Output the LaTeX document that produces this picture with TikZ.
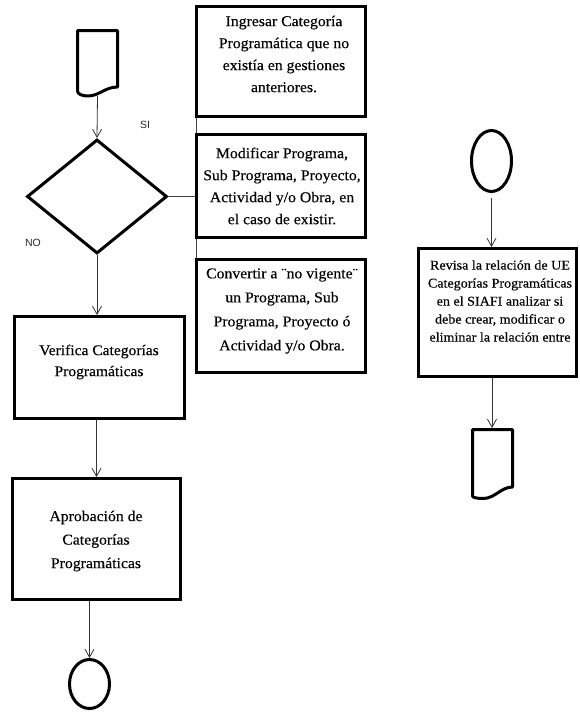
\documentclass[tikz,border=0pt]{standalone}
\usepackage{fontspec}
\setmainfont{Liberation Serif}[FakeStretch=1.05,FakeBold=0.3]
\newfontfamily\labelfont{Liberation Sans}
\usetikzlibrary{shapes.geometric,arrows.meta}

\begin{document}
\begin{tikzpicture}[x=1pt,y=-1pt,
  box/.style={draw, line width=3pt, rectangle, inner sep=0pt},
  terminal/.style={draw, line width=3pt, ellipse, inner sep=0pt},
  decision/.style={draw, line width=3pt, diamond, inner sep=0pt},
  docline/.style={draw, line width=3pt, line join=round},
  flow/.style={draw=black!80, line width=0.8pt,
    -{Straight Barb[length=8pt,width=9pt,line width=0.8pt]}},
  link/.style={draw=black!75, line width=0.8pt},
  txt/.style={align=center, inner sep=0pt, font=\fontsize{15}{22}\selectfont},
  side/.style={font=\labelfont\fontsize{10.5}{12}\selectfont, text=black!85, inner sep=0pt}
]
\useasboundingbox (0,0) rectangle (579,713);

% ---- left column -------------------------------------------------
% start document
\draw[docline] (77.5,91) -- (77.5,30.5) -- (117.5,30.5) -- (117.5,87)
  .. controls (105,87) and (99,96) .. (88,96)
  .. controls (82,96) and (77.5,94) .. (77.5,91) -- cycle;
\coordinate (doc1) at (97.5,96);

\node[decision, minimum width=140pt, minimum height=114pt] (dia) at (97,196.5) {};

% option boxes
\node[box, minimum width=169pt, minimum height=110pt] (b1) at (281,61.5) {};
\node[txt] (t1) at (284,54) {Ingresar Categoría\\Programática que no\\existía en gestiones\\anteriores.};

\node[box, minimum width=169pt, minimum height=103pt] (b2) at (281,186) {};
\node[txt] (t2) at (282,186) {Modificar Programa,\\Sub Programa, Proyecto,\\Actividad y/o Obra, en\\el caso de existir.};

\node[box, minimum width=169pt, minimum height=113pt] (b3) at (281,316) {};
\node[txt, font=\fontsize{15}{24}\selectfont] (t3) at (282,311)
  {Convertir a ¨no vigente¨\\un Programa, Sub\\Programa, Proyecto ó\\Actividad y/o Obra.};

% verification and approval
\node[box, minimum width=170pt, minimum height=102pt] (ver) at (99.5,367.5) {};
\node[txt, font=\fontsize{14.8}{21}\selectfont] (tv) at (99,362) {Verifica Categorías\\Programáticas};

\node[box, minimum width=168pt, minimum height=121pt] (apr) at (96.5,539) {};
\node[txt, font=\fontsize{15}{23.5}\selectfont] (ta) at (96,541) {Aprobación de\\Categorías\\Programáticas};

\node[terminal, minimum width=40pt, minimum height=49pt] (c1) at (89.5,684) {};

% branch labels
\node[side] (si) at (145,125) {SI};
\node[side] (no) at (33,243) {NO};

% connectors
\draw[flow] (doc1) -- (dia.north);
\draw[link] (dia.east) -- (dia.east -| b2.west);
\draw[link] ([xshift=1.5pt]b1.south west) -- ([xshift=1.5pt]b2.north west);
\draw[link] ([xshift=1.5pt]b2.south west) -- ([xshift=1.5pt]b3.north west);
\draw[flow] (dia.south) -- (dia.south |- ver.north);
\draw[flow] (ver.south -| apr.north) -- (apr.north);
\draw[flow] (apr.south -| c1.north) -- (c1.north);

% ---- right column ------------------------------------------------
\node[terminal, minimum width=40pt, minimum height=61pt] (c2) at (491.5,161) {};

\node[box, minimum width=158pt, minimum height=128pt] (rb) at (497.5,312.5) {};
\node[txt, font=\fontsize{13.4}{18}\selectfont] (tr) at (500,301)
  {Revisa la relación de UE\\Categorías Programáticas\\en el SIAFI analizar si\\debe crear, modificar o\\eliminar la relación entre};

% end document
\draw[docline] (472.5,496) -- (472.5,429.5) -- (512.5,429.5) -- (512.5,487)
  .. controls (501,487) and (495,498.5) .. (483,498.5)
  .. controls (477,498.5) and (472.5,497.5) .. (472.5,496) -- cycle;
\coordinate (doc2) at (492,428);

\draw[flow, shorten <=5pt] (c2.south) -- (c2.south |- rb.north);
\draw[flow] (rb.south -| doc2) -- (doc2);
\end{tikzpicture}
\end{document}
